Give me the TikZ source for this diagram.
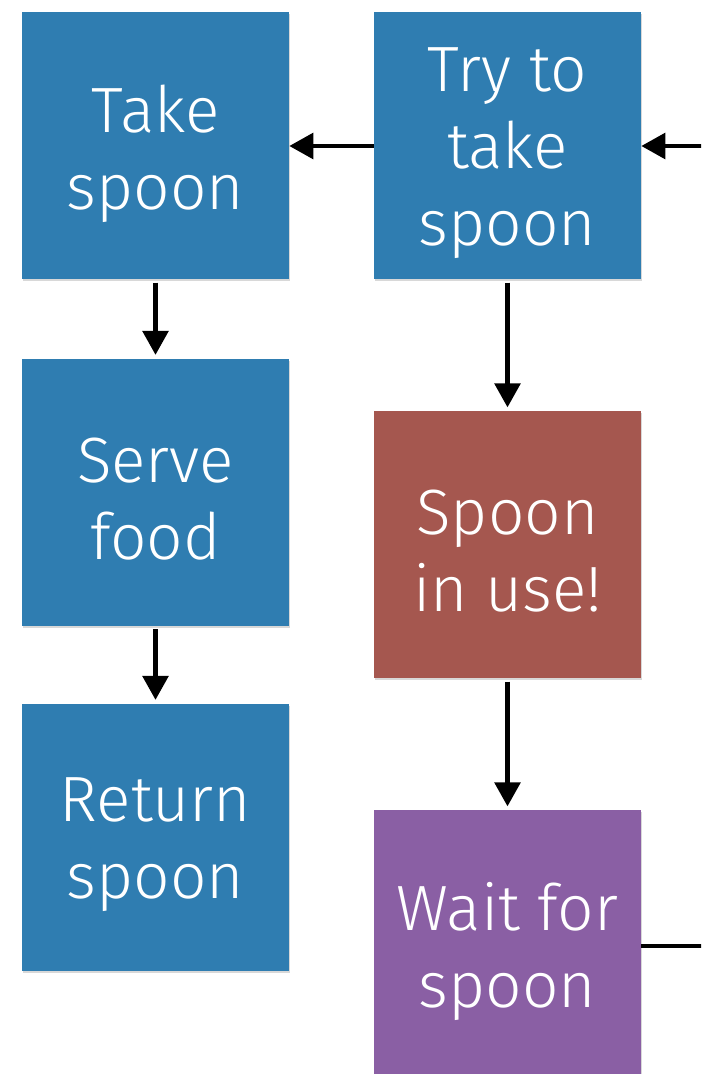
\documentclass[tikz,border=0pt]{standalone}
\usepackage{fontspec}
\setmainfont{Fira Sans}[UprightFont={* Light}]
\usetikzlibrary{arrows.meta,shadows}
\definecolor{boxblue}{HTML}{2F7DB1}
\definecolor{boxred}{HTML}{A5574F}
\definecolor{boxpurple}{HTML}{8A5FA4}
\tikzset{
  card/.style={minimum width=200.25pt, minimum height=200.25pt, inner sep=0pt,
    drop shadow={opacity=0.3, shadow xshift=0.8pt, shadow yshift=-1.5pt}},
  cardtext/.style={text=white, align=center, inner sep=0pt, font=\fontsize{48}{57.75}\selectfont},
  conn/.style={line width=3.5pt, -{Triangle[length=18pt,width=19pt]}},
  plainconn/.style={line width=3.5pt}
}
\begin{document}
\begin{tikzpicture}[x=0.75pt,y=-0.75pt]
\useasboundingbox (0,0) rectangle (701,1074);
\clip (0,0) rectangle (701,1074);
\fill[white] (0,0) rectangle (701,1074);
\node[card, fill=boxblue] (take) at (155.5,145.5) {};
\node[card, fill=boxblue] (try) at (507.5,145.5) {};
\node[card, fill=boxblue] (serve) at (155.5,492) {};
\node[card, fill=boxred] (inuse) at (507.5,544.5) {};
\node[card, fill=boxblue] (ret) at (155.5,837) {};
\node[card, fill=boxpurple] (wait) at (507.5,943.5) {};
\node[cardtext] (take-t) at ([yshift=-6pt]take.center) {Take\\spoon};
\node[cardtext] (try-t) at ([yshift=-6pt]try.center) {Try to\\take\\spoon};
\node[cardtext] (serve-t) at ([yshift=-5pt]serve.center) {Serve\\food};
\node[cardtext] (inuse-t) at ([yshift=-5pt]inuse.center) {Spoon\\in use!};
\node[cardtext] (ret-t) at ([yshift=-6pt]ret.center) {Return\\spoon};
\node[cardtext] (wait-t) at ([yshift=-6pt]wait.center) {Wait for\\spoon};
\coordinate (inR) at (703,146);
\coordinate (outR) at (703,946);
\draw[conn] (try.west |- 0,146) -- (take.east |- 0,146);
\draw[conn] (inR) -- (try.east |- inR);
\draw[conn, shorten <=2.5pt, shorten >=2.5pt] (take) -- (serve);
\draw[conn, shorten <=2.5pt, shorten >=2.5pt] (serve) -- (ret);
\draw[conn, shorten <=2.5pt, shorten >=2.5pt] (try) -- (inuse);
\draw[conn, shorten <=2.5pt, shorten >=2.5pt] (inuse) -- (wait);
\draw[plainconn] (wait.east |- outR) -- (outR);
\end{tikzpicture}
\end{document}
